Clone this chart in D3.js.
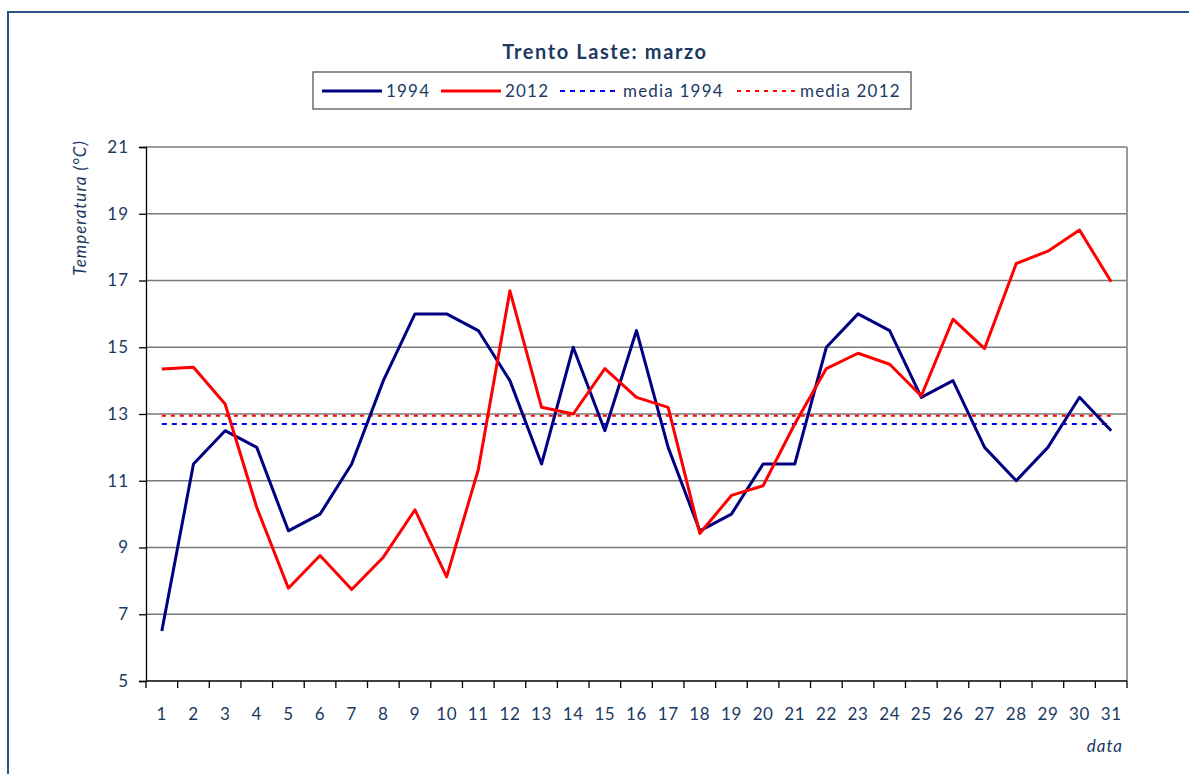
<!DOCTYPE html>
<html>
<head>
<meta charset="utf-8">
<script src="https://cdn.jsdelivr.net/npm/d3@7"></script>
<style>
  body { margin: 0; background: #fff; }
  svg text { font-family: Lato, "Open Sans", sans-serif; fill: #1b3a62; }
</style>
</head>
<body>
<div id="chart"></div>
<script>
// giorni di marzo
const days = d3.range(1, 32);
const t1994 = [6.5, 11.5, 12.5, 12.0, 9.5, 10.0, 11.5, 14.0, 16.0, 16.0,
               15.5, 14.0, 11.5, 15.0, 12.5, 15.5, 12.0, 9.5, 10.0, 11.5,
               11.5, 15.0, 16.0, 15.5, 13.5, 14.0, 12.0, 11.0, 12.0, 13.5, 12.5];
const t2012 = [14.35, 14.4, 13.3, 10.2, 7.78, 8.76, 7.74, 8.71, 10.13, 8.12,
               11.33, 16.69, 13.2, 13.0, 14.36, 13.5, 13.2, 9.42, 10.56, 10.85,
               12.7, 14.36, 14.82, 14.49, 13.54, 15.84, 14.96, 17.51, 17.88, 18.51, 16.96];
const media1994 = 12.7;
const media2012 = 12.95;
const yTicks = [5, 7, 9, 11, 13, 15, 17, 19, 21];

const width = 1189, height = 774;
const plot = { left: 146, right: 1127, top: 147, bottom: 681 };

const svg = d3.select("#chart").append("svg").attr("width", width).attr("height", height);

// cornice esterna
svg.append("rect").attr("x", 8).attr("y", 12).attr("width", width).attr("height", height)
   .attr("fill", "none").attr("stroke", "#2a5387").attr("stroke-width", 2);

const x = d3.scaleBand().domain(days).range([plot.left, plot.right]);
const y = d3.scaleLinear().domain([5, 21]).range([plot.bottom, plot.top]);
const cx = d => x(d) + x.bandwidth() / 2;

// griglia
svg.append("g").selectAll("line").data(yTicks.slice(1)).enter().append("line")
   .attr("x1", plot.left).attr("x2", plot.right)
   .attr("y1", d => y(d)).attr("y2", d => y(d))
   .attr("stroke", "#7a7a7a").attr("stroke-width", 1.4);

// bordo destro area
svg.append("line").attr("x1", plot.right).attr("x2", plot.right)
   .attr("y1", plot.top).attr("y2", plot.bottom)
   .attr("stroke", "#9a9a9a").attr("stroke-width", 2);

// asse y
const yAxis = svg.append("g").attr("transform", `translate(${plot.left},0)`)
   .call(d3.axisLeft(y).tickValues(yTicks).tickSize(7).tickPadding(10));
yAxis.select(".domain").attr("stroke", "#000").attr("stroke-width", 1.3);
yAxis.selectAll(".tick line").attr("stroke", "#000").attr("stroke-width", 1.3);
yAxis.selectAll("text").style("font-size", "17px").style("letter-spacing", "1px").attr("fill", "#1b3a62");

// asse x: etichette al centro, tacche ai bordi
const xAxis = svg.append("g").attr("transform", `translate(0,${plot.bottom})`)
   .call(d3.axisBottom(x).tickSize(0).tickPadding(27));
xAxis.select(".domain").remove();
xAxis.selectAll("text").style("font-size", "17px").style("letter-spacing", "0.6px").attr("fill", "#1b3a62");
svg.append("line").attr("x1", plot.left).attr("x2", plot.right)
   .attr("y1", plot.bottom).attr("y2", plot.bottom)
   .attr("stroke", "#000").attr("stroke-width", 1.3);
svg.append("g").selectAll("line").data(days.concat([null])).enter().append("line")
   .attr("x1", d => d === null ? plot.right : x(d))
   .attr("x2", d => d === null ? plot.right : x(d))
   .attr("y1", plot.bottom).attr("y2", plot.bottom + 7)
   .attr("stroke", "#000").attr("stroke-width", 1.3);

// linee medie
const first = cx(days[0]), last = cx(days[days.length - 1]);
svg.append("line").attr("x1", first).attr("x2", last)
   .attr("y1", y(media1994)).attr("y2", y(media1994))
   .attr("stroke", "#0000ff").attr("stroke-width", 2).attr("stroke-dasharray", "5,5");
svg.append("line").attr("x1", first).attr("x2", last)
   .attr("y1", y(media2012)).attr("y2", y(media2012))
   .attr("stroke", "#ff0000").attr("stroke-width", 2).attr("stroke-dasharray", "4,5");

// serie
const line = d3.line().x((d, i) => cx(days[i])).y(d => y(d));
svg.append("path").datum(t1994).attr("d", line)
   .attr("fill", "none").attr("stroke", "#000080").attr("stroke-width", 3)
   .attr("stroke-linejoin", "round");
svg.append("path").datum(t2012).attr("d", line)
   .attr("fill", "none").attr("stroke", "#ff0000").attr("stroke-width", 3)
   .attr("stroke-linejoin", "round");

// titolo
svg.append("text").attr("x", 605).attr("y", 59).attr("text-anchor", "middle")
   .style("font-size", "20px").style("font-weight", "bold").style("letter-spacing", "1.6px")
   .text("Trento Laste: marzo");

// titoli assi
svg.append("text").attr("transform", "translate(86,208) rotate(-90)")
   .attr("text-anchor", "middle").style("font-size", "17px").style("font-style", "italic")
   .style("letter-spacing", "1px").text("Temperatura (°C)");
svg.append("text").attr("x", 1123).attr("y", 752).attr("text-anchor", "end")
   .style("font-size", "17px").style("font-style", "italic").style("letter-spacing", "1px").text("data");

// legenda
const legend = svg.append("g");
legend.append("rect").attr("x", 313).attr("y", 72).attr("width", 598).attr("height", 37)
   .attr("fill", "#fff").attr("stroke", "#555").attr("stroke-width", 1.3);
const legendItems = [
  { label: "1994", color: "#000080", dash: null, x0: 322, x1: 382, tx: 386 },
  { label: "2012", color: "#ff0000", dash: null, x0: 441, x1: 501, tx: 505 },
  { label: "media 1994", color: "#0000ff", dash: "5,5", x0: 560, x1: 620, tx: 623 },
  { label: "media 2012", color: "#ff0000", dash: "4,5", x0: 737, x1: 797, tx: 800 }
];
legendItems.forEach(it => {
  legend.append("line").attr("x1", it.x0).attr("x2", it.x1).attr("y1", 91).attr("y2", 91)
     .attr("stroke", it.color).attr("stroke-width", it.dash ? 2 : 3)
     .attr("stroke-dasharray", it.dash);
  legend.append("text").attr("x", it.tx).attr("y", 97).style("font-size", "17px")
     .style("letter-spacing", "1.2px").text(it.label);
});
</script>
</body>
</html>
